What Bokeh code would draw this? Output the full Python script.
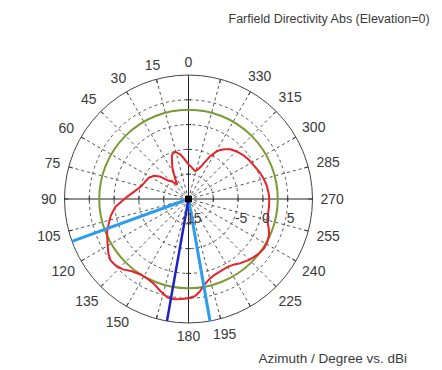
import numpy as np
from bokeh.plotting import figure
from bokeh.core.properties import value
from bokeh.embed import file_html
from bokeh.resources import INLINE

# Farfield directivity cut, azimuth in degrees (0 at top, counter-clockwise) vs dBi
azimuth = [0, 5, 10, 15, 18, 21, 27, 33, 38, 44, 48, 52, 56, 62, 70, 76, 82, 88,
           96, 102, 107, 112, 118, 124, 128, 132, 137, 142, 148, 153, 158, 163,
           168, 172, 176, 180, 184, 187, 190, 194, 198, 204, 210, 215, 219, 224,
           228, 233, 237, 241, 246, 250, 255, 260, 265, 270, 274, 280, 285, 291,
           297, 303, 308, 314, 320, 324, 327, 330, 333, 336, 338, 342, 346, 350, 355]
directivity = [-8.0, -7.1, -5.9, -5.2, -5.2, -5.6, -7.8, -10.0, -11.3, -10.0, -9.4, -7.6,
               -6.6, -5.9, -5.5, -5.0, -4.0, -2.6, -0.2, 1.0, 1.8, 2.7, 3.5, 4.5,
               5.0, 4.9, 4.4, 3.5, 3.0, 3.1, 3.5, 4.4, 5.3, 5.4, 5.2, 5.0, 4.6,
               3.8, 2.7, 1.8, 1.25, 0.9, 0.8, 1.1, 1.65, 2.2, 2.6, 3.0, 3.2, 3.1,
               2.8, 2.2, 1.45, 1.3, 1.3, 1.3, 1.2, 1.0, 0.7, 0.3, -0.2, -0.5, -0.8,
               -1.3, -1.9, -2.6, -3.2, -4.1, -5.3, -6.8, -7.7, -8.7, -9.2, -9.0, -8.5]

reference_level = 3.0          # dBi, green circle
main_lobe_direction = 170      # degrees
beam_edges = [110, 190]        # angular width limits, degrees

angle_labels = ["0", "15", "30", "45", "60", "75", "90", "105", "120", "135", "150",
                "180", "195", "225", "240", "255", "270", "285", "300", "315", "330"]
angle_label_deg = [0, 15, 30, 45, 60, 75, 90, 105, 120, 135, 150,
                   180, 195, 225, 240, 255, 270, 285, 300, 315, 330]
radial_labels = ["-15", "-5", "0", "5"]
radial_label_db = [-15, -5, 0, 5]
ring_db = [-10, -5, 0, 5]

# radial scale: dBi -> pixels from the centre
DB_MIN, DB_MAX, R_OUT = -15.0, 10.0, 124.0
CX, CY = 188.0, 198.5
W, H = 442, 370


def radius(db):
    return (np.asarray(db, dtype=float) - DB_MIN) / (DB_MAX - DB_MIN) * R_OUT


def polar(deg, r):
    th = np.radians(np.asarray(deg, dtype=float))
    return -r * np.sin(th), r * np.cos(th)


p = figure(width=W, height=H, output_backend="svg", toolbar_location=None,
           x_range=(-CX, W - CX), y_range=(-(H - CY), CY),
           min_border=0, min_border_left=0, min_border_right=0,
           min_border_top=0, min_border_bottom=0)
p.axis.visible = False
p.grid.visible = False
p.outline_line_color = None
p.background_fill_color = "white"
p.border_fill_color = "white"

grid_color = "#555555"

# dashed rings
p.circle(x=[0] * len(ring_db), y=[0] * len(ring_db), radius=radius(ring_db),
         fill_color=None, line_color=grid_color, line_dash="3 3", line_width=1)

# dashed spokes every 15 degrees (axes drawn solid)
spoke_deg = [a for a in range(0, 360, 15) if a % 90 != 0]
sx, sy = polar(spoke_deg, R_OUT)
p.segment(x0=[0] * len(spoke_deg), y0=[0] * len(spoke_deg), x1=sx, y1=sy,
          line_color=grid_color, line_dash="3 3", line_width=1)

# outer ring
p.circle(x=[0], y=[0], radius=[R_OUT], fill_color=None,
         line_color="#444444", line_width=1)

# solid axes
p.segment(x0=[-R_OUT, 0], y0=[0, -R_OUT], x1=[R_OUT, 0], y1=[0, R_OUT],
          line_color="#222222", line_width=1)

# tick marks on the outer ring
tick_deg = list(range(0, 360, 15))
tx0, ty0 = polar(tick_deg, R_OUT)
tx1, ty1 = polar(tick_deg, R_OUT - 4)
p.segment(x0=tx0, y0=ty0, x1=tx1, y1=ty1, line_color="#333333", line_width=1)

# tick marks on the axes at every ring
rr = radius(ring_db)
hx = np.concatenate([rr, -rr])
p.segment(x0=hx, y0=np.full(len(hx), -2.5), x1=hx, y1=np.full(len(hx), 2.5),
          line_color="#333333", line_width=1)
p.segment(x0=np.full(len(hx), -2.5), y0=hx, x1=np.full(len(hx), 2.5), y1=hx,
          line_color="#333333", line_width=1)

# reference circle
p.circle(x=[0], y=[0], radius=[float(radius(reference_level))], fill_color=None,
         line_color="#7a9a35", line_width=2)

# directivity trace
px, py = polar(azimuth + [azimuth[0]], radius(directivity + [directivity[0]]))
p.line(px, py, line_color="#e8222a", line_width=2)

# main lobe direction and angular width
bx, by = polar(beam_edges, R_OUT)
p.segment(x0=[0, 0], y0=[0, 0], x1=bx, y1=by, line_color="#2a9df0", line_width=3)
mx, my = polar([main_lobe_direction], R_OUT)
p.segment(x0=[0], y0=[0], x1=mx, y1=my, line_color="#1b22c8", line_width=2.5)

p.scatter(x=[0], y=[0], marker="square", size=6, color="black")

font = value("Liberation Sans")
label_color = "#3a3a3a"

# azimuth labels around the ring
char_w, char_h, gap = 7.8, 10.0, 8.0
lx, ly = [], []
for deg, lab in zip(angle_label_deg, angle_labels):
    th = np.radians(deg)
    ux, uy = -np.sin(th), np.cos(th)
    ext = abs(ux) * len(lab) * char_w / 2 + abs(uy) * char_h / 2
    r = R_OUT + gap + ext
    lx.append(r * ux)
    ly.append(r * uy)
p.text(x=lx, y=ly, text=angle_labels, text_font=font, text_font_size="14px",
       text_color=label_color, text_align="center", text_baseline="middle")

# dB labels along the 270 degree axis
rl = radius(radial_label_db)
p.text(x=rl + 3, y=[-19] * len(rl), text=radial_labels, text_font=font,
       text_font_size="14px", text_color=label_color,
       text_align="center", text_baseline="middle")

# captions
p.text(x=[228 - CX], y=[CY - 18], text=["Farfield Directivity Abs (Elevation=0)"],
       text_font=font, text_font_size="12.5px", text_color=label_color,
       text_align="left", text_baseline="middle")
p.text(x=[258 - CX], y=[CY - 358], text=["Azimuth / Degree vs. dBi"],
       text_font=font, text_font_size="13.5px", text_color=label_color,
       text_align="left", text_baseline="middle")

open("out.html", "w").write(file_html(p, INLINE))
